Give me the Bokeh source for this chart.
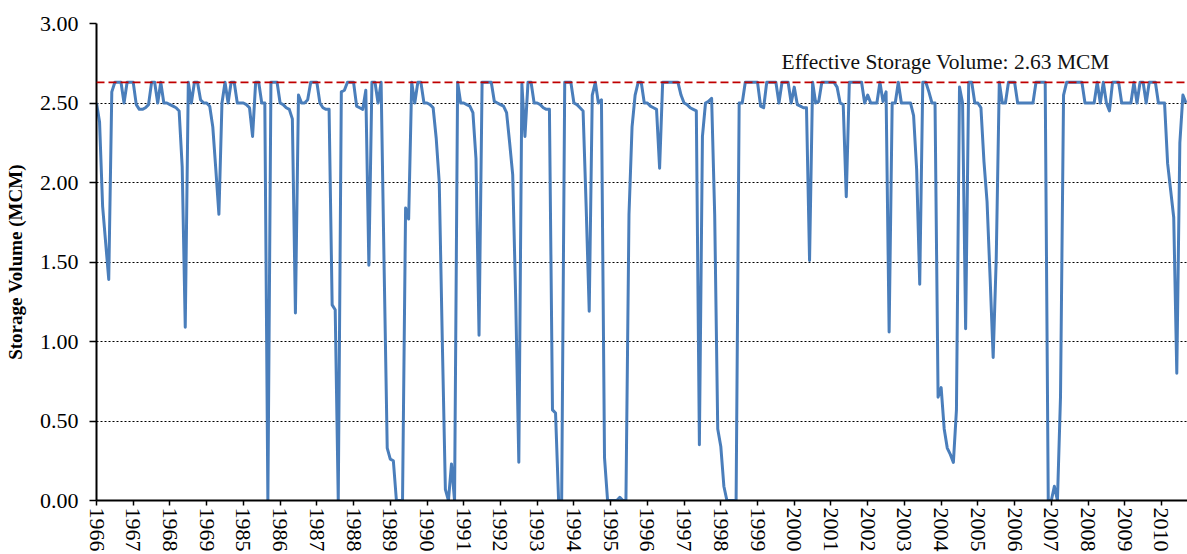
from bokeh.plotting import figure
from bokeh.models import Range1d, FixedTicker, NumeralTickFormatter, Span, Label, ColumnDataSource
from bokeh.embed import file_html
from bokeh.resources import INLINE

# ---------------- data (monthly storage volume, MCM) ----------------
year_labels = ["1966", "1967", "1968", "1969", "1985", "1986", "1987", "1988",
               "1989", "1990", "1991", "1992", "1993", "1994", "1995", "1996",
               "1997", "1998", "1999", "2000", "2001", "2002", "2003", "2004",
               "2005", "2006", "2007", "2008", "2009", "2010"]

storage_1966 = [2.50, 2.38, 1.85, 1.62, 1.39, 2.57, 2.63, 2.63, 2.63, 2.50, 2.63, 2.63]
storage_1967 = [2.63, 2.49, 2.46, 2.46, 2.47, 2.49, 2.63, 2.63, 2.50, 2.63, 2.50, 2.50]
storage_1968 = [2.49, 2.48, 2.47, 2.45, 2.10, 1.09, 2.63, 2.50, 2.63, 2.63, 2.52, 2.50]
storage_1969 = [2.50, 2.48, 2.35, 2.08, 1.80, 2.50, 2.63, 2.50, 2.63, 2.63, 2.50, 2.50]
storage_1985 = [2.50, 2.49, 2.47, 2.29, 2.63, 2.63, 2.50, 2.50, 0.00, 2.63, 2.63, 2.63]
storage_1986 = [2.50, 2.49, 2.47, 2.46, 2.40, 1.18, 2.55, 2.50, 2.50, 2.52, 2.63, 2.63]
storage_1987 = [2.63, 2.50, 2.47, 2.46, 2.46, 1.23, 1.20, 0.00, 2.57, 2.58, 2.63, 2.63]
storage_1988 = [2.63, 2.48, 2.47, 2.46, 2.58, 1.48, 2.63, 2.63, 2.50, 2.63, 1.45, 0.33]
storage_1989 = [0.26, 0.25, 0.00, 0.00, 0.00, 1.84, 1.77, 2.63, 2.50, 2.63, 2.63, 2.50]
storage_1990 = [2.50, 2.49, 2.47, 2.28, 2.00, 1.00, 0.07, 0.00, 0.23, 0.00, 2.63, 2.50]
storage_1991 = [2.50, 2.49, 2.48, 2.44, 2.15, 1.04, 2.63, 2.63, 2.63, 2.63, 2.51, 2.50]
storage_1992 = [2.49, 2.48, 2.44, 2.25, 2.05, 1.25, 0.24, 2.62, 2.29, 2.63, 2.63, 2.50]
storage_1993 = [2.50, 2.49, 2.47, 2.46, 2.46, 0.57, 0.55, 0.00, 0.00, 2.63, 2.63, 2.63]
storage_1994 = [2.50, 2.49, 2.47, 2.45, 1.85, 1.19, 2.55, 2.63, 2.50, 2.52, 0.27, 0.00]
storage_1995 = [0.00, 0.00, 0.00, 0.02, 0.00, 0.00, 1.80, 2.35, 2.55, 2.63, 2.63, 2.50]
storage_1996 = [2.50, 2.48, 2.47, 2.46, 2.09, 2.63, 2.63, 2.63, 2.63, 2.63, 2.63, 2.55]
storage_1997 = [2.50, 2.49, 2.47, 2.46, 2.45, 0.35, 2.29, 2.50, 2.51, 2.53, 1.80, 0.45]
storage_1998 = [0.34, 0.09, 0.00, 0.00, 0.00, 0.00, 2.50, 2.50, 2.63, 2.63, 2.63, 2.63]
storage_1999 = [2.63, 2.48, 2.47, 2.63, 2.63, 2.63, 2.63, 2.50, 2.63, 2.63, 2.63, 2.50]
storage_2000 = [2.60, 2.49, 2.48, 2.47, 2.47, 1.51, 2.63, 2.50, 2.51, 2.63, 2.63, 2.63]
storage_2001 = [2.63, 2.63, 2.60, 2.50, 2.49, 1.91, 2.63, 2.63, 2.63, 2.63, 2.63, 2.50]
storage_2002 = [2.55, 2.50, 2.50, 2.50, 2.63, 2.51, 2.57, 1.06, 2.50, 2.50, 2.63, 2.50]
storage_2003 = [2.50, 2.50, 2.50, 2.42, 2.08, 1.36, 2.63, 2.63, 2.57, 2.50, 2.50, 0.65]
storage_2004 = [0.71, 0.45, 0.33, 0.29, 0.24, 0.57, 2.60, 2.50, 1.08, 2.63, 2.63, 2.50]
storage_2005 = [2.50, 2.47, 2.13, 1.88, 1.40, 0.90, 1.52, 2.63, 2.50, 2.50, 2.63, 2.63]
storage_2006 = [2.63, 2.50, 2.50, 2.50, 2.50, 2.50, 2.50, 2.63, 2.63, 2.63, 2.63, 0.00]
storage_2007 = [0.00, 0.09, 0.00, 0.65, 2.55, 2.63, 2.63, 2.63, 2.63, 2.63, 2.63, 2.50]
storage_2008 = [2.50, 2.50, 2.50, 2.63, 2.50, 2.63, 2.50, 2.45, 2.63, 2.63, 2.63, 2.50]
storage_2009 = [2.50, 2.50, 2.50, 2.63, 2.50, 2.63, 2.63, 2.50, 2.63, 2.63, 2.63, 2.50]
storage_2010 = [2.50, 2.50, 2.12, 1.95, 1.78, 0.80, 2.25, 2.55, 2.50]

effective_storage = 2.63
y_ticks = [0.0, 0.5, 1.0, 1.5, 2.0, 2.5, 3.0]

yearly = [storage_1966, storage_1967, storage_1968, storage_1969, storage_1985,
          storage_1986, storage_1987, storage_1988, storage_1989, storage_1990,
          storage_1991, storage_1992, storage_1993, storage_1994, storage_1995,
          storage_1996, storage_1997, storage_1998, storage_1999, storage_2000,
          storage_2001, storage_2002, storage_2003, storage_2004, storage_2005,
          storage_2006, storage_2007, storage_2008, storage_2009, storage_2010]

values = [v for yr in yearly for v in yr]
months = list(range(len(values)))
src = ColumnDataSource(dict(month=months, volume=values))

year_ticks = [12 * k for k in range(len(year_labels))]
overrides = {t: lab for t, lab in zip(year_ticks, year_labels)}

# ---------------- figure ----------------
FONT = "Liberation Serif"
p = figure(width=1187, height=554,
           x_range=Range1d(0, 356.5), y_range=Range1d(0, 3),
           output_backend="svg", toolbar_location=None,
           min_border_left=96, min_border_right=0, min_border_top=23, min_border_bottom=0,
           outline_line_color=None, background_fill_color="white", border_fill_color="white")

p.line("month", "volume", source=src, line_color="#4A7EBB", line_width=3, line_join="round")

p.add_layout(Span(location=effective_storage, dimension="width", line_color="#C00000",
                  line_dash="8 4", line_width=1.6))

p.add_layout(Label(x=277.5, y=2.755, text=f"Effective Storage Volume: {effective_storage:.2f} MCM",
                   text_align="center", text_baseline="alphabetic", text_font=FONT,
                   text_font_size="21.5px", text_color="#111111"))

# grid
p.xgrid.visible = False
p.ygrid.ticker = FixedTicker(ticks=y_ticks)
p.ygrid.grid_line_color = "black"
p.ygrid.grid_line_dash = "2 2"
p.ygrid.grid_line_width = 1.2

# y axis
p.yaxis.ticker = FixedTicker(ticks=y_ticks)
p.yaxis.formatter = NumeralTickFormatter(format="0.00")
p.yaxis.axis_label = "Storage Volume (MCM)"
p.yaxis.axis_label_text_font = FONT
p.yaxis.axis_label_text_font_style = "bold"
p.yaxis.axis_label_text_font_size = "19px"
p.yaxis.axis_label_text_color = "black"
p.yaxis.axis_label_standoff = 11
p.yaxis.major_label_text_font = FONT
p.yaxis.major_label_text_font_size = "22px"
p.yaxis.major_label_text_color = "black"
p.yaxis.major_label_standoff = 11
p.yaxis.axis_line_color = "black"
p.yaxis.axis_line_width = 2
p.yaxis.major_tick_line_color = "black"
p.yaxis.major_tick_line_width = 1.5
p.yaxis.major_tick_out = 7
p.yaxis.major_tick_in = 0
p.yaxis.minor_tick_line_color = None

# x axis
p.xaxis.ticker = FixedTicker(ticks=year_ticks)
p.xaxis.major_label_overrides = overrides
p.xaxis.major_label_orientation = "vertical"
p.xaxis.major_label_text_font = FONT
p.xaxis.major_label_text_font_size = "22px"
p.xaxis.major_label_text_color = "black"
p.xaxis.major_label_standoff = 2
p.xaxis.axis_line_color = "black"
p.xaxis.axis_line_width = 2
p.xaxis.major_tick_line_color = "black"
p.xaxis.major_tick_line_width = 1.5
p.xaxis.major_tick_out = 5
p.xaxis.major_tick_in = 0
p.xaxis.minor_tick_line_color = None

open("out.html", "w").write(file_html(p, INLINE))
